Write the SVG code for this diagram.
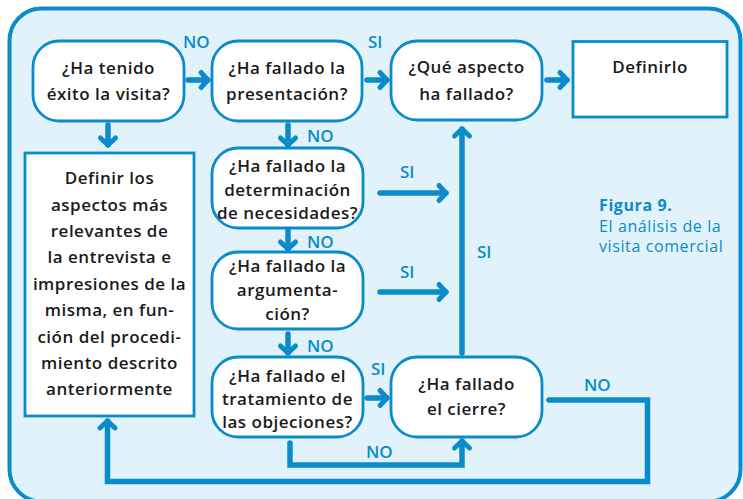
<svg xmlns="http://www.w3.org/2000/svg" width="743" height="499" viewBox="0 0 743 499">
<defs>
<style>
.bg{fill:#e2f2fb;stroke:#0a8bca;stroke-width:4}
.node{fill:#ffffff;stroke:#0a8bca;stroke-width:2.8}
.t{font-family:"Open Sans","Liberation Sans",sans-serif;font-weight:600;font-size:17px;fill:#1a1a1a;text-anchor:middle;letter-spacing:0.5px}
.lbl{font-family:"Open Sans","Liberation Sans",sans-serif;font-weight:600;font-size:17px;fill:#0a8bca}
.cap{font-family:"Open Sans","Liberation Sans",sans-serif;font-size:16px;fill:#0a8bca;letter-spacing:0.6px}
.ln{fill:none;stroke:#0a8bca;stroke-width:5.5;stroke-linecap:round;stroke-linejoin:miter}
</style>
<marker id="ah" markerUnits="userSpaceOnUse" markerWidth="20" markerHeight="20" viewBox="-12 -10 16 20" refX="0" refY="0" orient="auto" overflow="visible">
<path d="M-7,-7.5 L0,0 L-7,7.5" fill="none" stroke="#0a8bca" stroke-width="5" stroke-linecap="round" stroke-linejoin="round"/>
</marker>
</defs>
<rect class="bg" x="9.5" y="8.5" width="731" height="493" rx="32"/>

<g id="connectors">
<line class="ln" x1="188" y1="80" x2="208" y2="80" marker-end="url(#ah)"/>
<line class="ln" x1="367" y1="80" x2="387" y2="80" marker-end="url(#ah)"/>
<line class="ln" x1="547" y1="80" x2="567" y2="80" marker-end="url(#ah)"/>
<line class="ln" x1="108" y1="125" x2="108" y2="145" marker-end="url(#ah)"/>
<line class="ln" x1="288" y1="125" x2="288" y2="145" marker-end="url(#ah)"/>
<line class="ln" x1="288" y1="231" x2="288" y2="249" marker-end="url(#ah)"/>
<line class="ln" x1="288" y1="334" x2="288" y2="353" marker-end="url(#ah)"/>
<line class="ln" x1="367" y1="398" x2="387" y2="398" marker-end="url(#ah)"/>
<line class="ln" x1="380" y1="193" x2="446" y2="193" marker-end="url(#ah)"/>
<line class="ln" x1="380" y1="292" x2="446" y2="292" marker-end="url(#ah)"/>
<line class="ln" x1="462" y1="353" x2="462" y2="129" marker-end="url(#ah)"/>
<polyline class="ln" points="290,443 290,465 462,465 462,441" marker-end="url(#ah)"/>
<polyline class="ln" points="549,400 647.5,400 647.5,481.5 107.5,481.5 107.5,421" marker-end="url(#ah)"/>
<text class="lbl" x="183" y="48">NO</text>
<text class="lbl" x="368" y="48">SI</text>
<text class="lbl" x="307" y="142">NO</text>
<text class="lbl" x="307" y="248">NO</text>
<text class="lbl" x="307" y="352">NO</text>
<text class="lbl" x="400" y="178">SI</text>
<text class="lbl" x="400" y="278">SI</text>
<text class="lbl" x="477" y="258">SI</text>
<text class="lbl" x="371" y="375">SI</text>
<text class="lbl" x="366" y="458">NO</text>
<text class="lbl" x="584" y="391">NO</text>
</g>

<g id="n1">
<rect class="node" x="33" y="41" width="151" height="80" rx="26"/>
<text class="t" x="108.5" y="74">¿Ha tenido</text>
<text class="t" x="108.5" y="100">éxito la visita?</text>
</g>
<g id="n2">
<rect class="node" x="212" y="41" width="150" height="80" rx="26"/>
<text class="t" x="287" y="74">¿Ha fallado la</text>
<text class="t" x="287" y="100">presentación?</text>
</g>
<g id="n3">
<rect class="node" x="391" y="41" width="151" height="79" rx="26"/>
<text class="t" x="466.5" y="73">¿Qué aspecto</text>
<text class="t" x="466.5" y="100">ha fallado?</text>
</g>
<g id="n4">
<rect class="node" x="573" y="41.5" width="154" height="75.5"/>
<text class="t" x="650" y="73">Definirlo</text>
</g>
<g id="n5">
<rect class="node" x="25" y="153" width="169" height="263"/>
<text class="t" x="109.5" y="184">Definir los</text>
<text class="t" x="109.5" y="210.5">aspectos más</text>
<text class="t" x="109.5" y="237">relevantes de</text>
<text class="t" x="109.5" y="263.3">la entrevista e</text>
<text class="t" x="109.5" y="289.7">impresiones de la</text>
<text class="t" x="109.5" y="316">misma, en fun-</text>
<text class="t" x="109.5" y="342.5">ción del procedi-</text>
<text class="t" x="109.5" y="369">miento descrito</text>
<text class="t" x="109.5" y="395.3">anteriormente</text>
</g>
<g id="n6">
<rect class="node" x="212" y="148" width="151" height="80" rx="26"/>
<text class="t" x="287.5" y="172">¿Ha fallado la</text>
<text class="t" x="287.5" y="195.5">determinación</text>
<text class="t" x="287.5" y="219">de necesidades?</text>
</g>
<g id="n7">
<rect class="node" x="212" y="252" width="151" height="77" rx="26"/>
<text class="t" x="287.5" y="272">¿Ha fallado la</text>
<text class="t" x="287.5" y="296">argumenta-</text>
<text class="t" x="287.5" y="320">ción?</text>
</g>
<g id="n8">
<rect class="node" x="212" y="357" width="151" height="80" rx="26"/>
<text class="t" x="287.5" y="382">¿Ha fallado el</text>
<text class="t" x="287.5" y="405">tratamiento de</text>
<text class="t" x="287.5" y="428">las objeciones?</text>
</g>
<g id="n9">
<rect class="node" x="391" y="357" width="151" height="80" rx="26"/>
<text class="t" x="466.5" y="390">¿Ha fallado</text>
<text class="t" x="466.5" y="415">el cierre?</text>
</g>
<g id="caption">
<text class="cap" x="599" y="211" font-weight="700" font-size="18" letter-spacing="0.3">Figura 9.</text>
<text class="cap" x="599" y="232">El análisis de la</text>
<text class="cap" x="599" y="252">visita comercial</text>
</g>
</svg>
